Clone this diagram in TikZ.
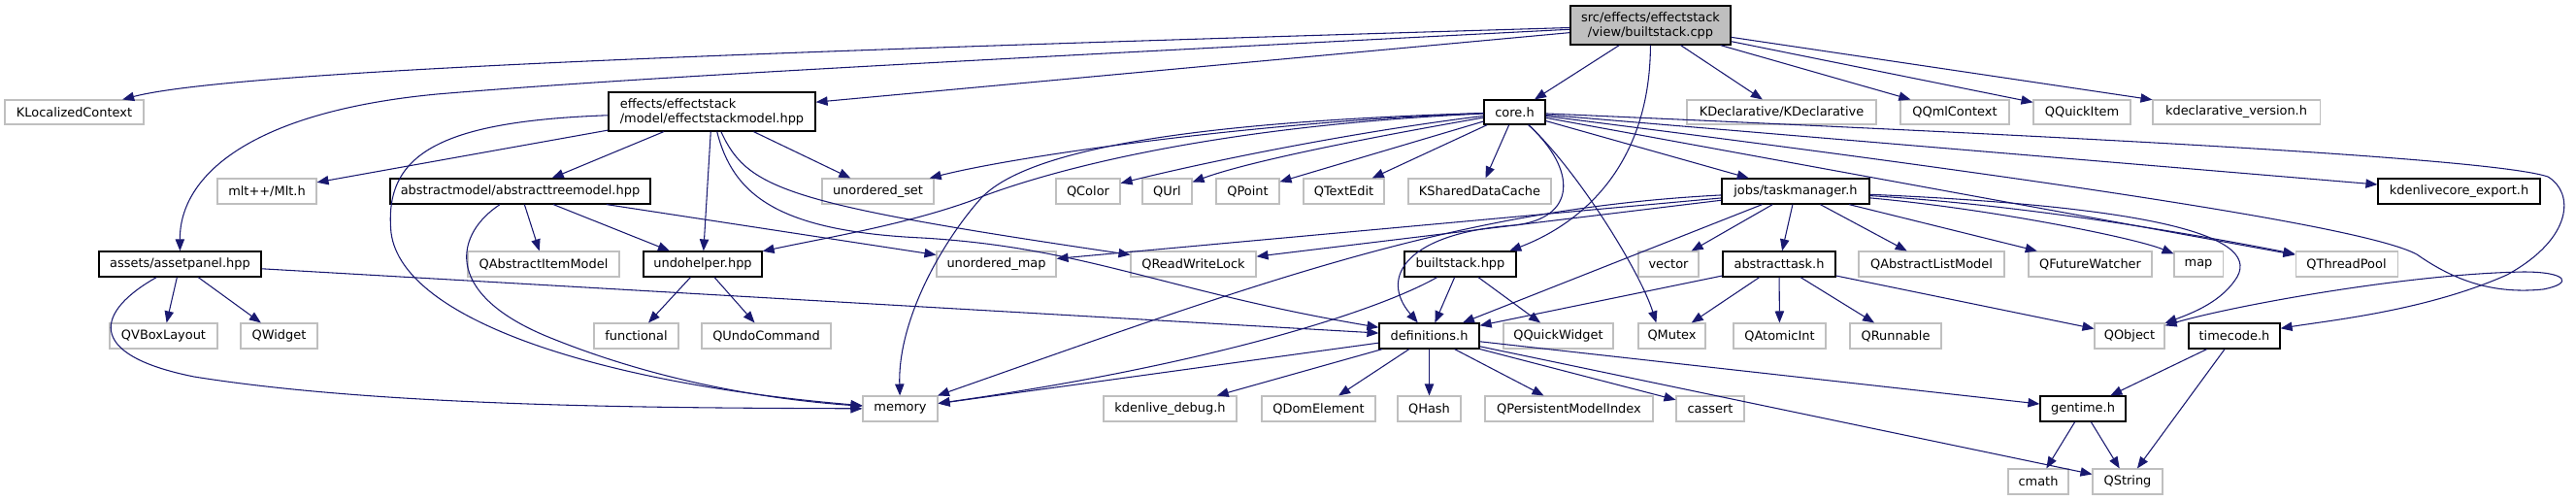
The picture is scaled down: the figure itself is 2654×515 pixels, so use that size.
\documentclass[tikz,border=0pt]{standalone}
\usepackage{fontspec}
\setmainfont{DejaVu Sans}
\usetikzlibrary{arrows.meta}
\definecolor{edgec}{HTML}{191970}
\definecolor{greyb}{HTML}{BFBFBF}
\newcommand\mkbox[7]{\node[#6, minimum width={(#4-#2)*0.75pt}, minimum height={(#5-#3)*0.75pt}] (#1) at ({(#2+#4)/2},{(#3+#5)/2}) {#7};}
\begin{document}
\begin{tikzpicture}[x=0.75pt,y=-0.75pt,
  every node/.style={font=\fontsize{9.7}{11.3}\selectfont, inner sep=0pt, anchor=center},
  doc/.style={draw=black, line width=0.9pt, fill=white},
  ext/.style={draw=greyb, line width=0.8pt, fill=white},
  rootbox/.style={draw=black, line width=0.9pt, fill=greyb},
  edge/.style={draw=edgec, line width=0.8pt, -{Triangle[length=9pt,width=7pt]}}]
\useasboundingbox (0,0) rectangle (2654,515);
% row 0
\mkbox{root}{1618}{6}{1783}{46}{rootbox,align=center}{src/effects/effectstack\\/view/builtstack.cpp}
% row 1
\mkbox{kloc}{5}{103}{148}{128}{ext}{KLocalizedContext}
\mkbox{esm}{627}{95}{840}{135}{doc,align=left}{effects/effectstack\\/model/effectstackmodel.hpp}
\mkbox{core}{1529}{103}{1592}{128}{doc}{core.h}
\mkbox{kdecl}{1738}{103}{1933}{128}{ext}{KDeclarative/KDeclarative}
\mkbox{qqml}{1958}{103}{2070}{128}{ext}{QQmlContext}
\mkbox{qquick}{2095}{103}{2195}{128}{ext}{QQuickItem}
\mkbox{kdver}{2218}{103}{2390}{128}{ext}{kdeclarative\_version.h}
% row 2
\mkbox{mlt}{224}{184}{326}{210}{ext}{mlt++/Mlt.h}
\mkbox{atm}{402}{184}{670}{210}{doc}{abstractmodel/abstracttreemodel.hpp}
\mkbox{uset}{847}{184}{962}{210}{ext}{unordered\_set}
\mkbox{qcolor}{1088}{184}{1154}{210}{ext}{QColor}
\mkbox{qurl}{1177}{184}{1228}{210}{ext}{QUrl}
\mkbox{qpoint}{1253}{184}{1318}{210}{ext}{QPoint}
\mkbox{qtextedit}{1343}{184}{1426}{210}{ext}{QTextEdit}
\mkbox{kshared}{1451}{184}{1598}{210}{ext}{KSharedDataCache}
\mkbox{taskmgr}{1774}{184}{1926}{210}{doc}{jobs/taskmanager.h}
\mkbox{kexport}{2450}{184}{2617}{210}{doc}{kdenlivecore\_export.h}
% row 3
\mkbox{assetpanel}{102}{259}{269}{285}{doc}{assets/assetpanel.hpp}
\mkbox{qaim}{482}{259}{638}{285}{ext}{QAbstractItemModel}
\mkbox{undo}{663}{259}{785}{285}{doc}{undohelper.hpp}
\mkbox{umap}{965}{259}{1088}{285}{ext}{unordered\_map}
\mkbox{qrwl}{1165}{259}{1294}{285}{ext}{QReadWriteLock}
\mkbox{bshpp}{1447}{259}{1562}{285}{doc}{builtstack.hpp}
\mkbox{vector}{1688}{259}{1750}{285}{ext}{vector}
\mkbox{atask}{1775}{259}{1891}{285}{doc}{abstracttask.h}
\mkbox{qalm}{1915}{259}{2065}{285}{ext}{QAbstractListModel}
\mkbox{qfw}{2090}{259}{2217}{285}{ext}{QFutureWatcher}
\mkbox{map}{2240}{259}{2290}{285}{ext}{map}
\mkbox{qtp}{2365}{259}{2470}{285}{ext}{QThreadPool}
% row 4
\mkbox{qvbox}{113}{333}{224}{359}{ext}{QVBoxLayout}
\mkbox{qwidget}{248}{333}{327}{359}{ext}{QWidget}
\mkbox{functional}{612}{333}{699}{359}{ext}{functional}
\mkbox{qundo}{723}{333}{856}{359}{ext}{QUndoCommand}
\mkbox{defs}{1421}{333}{1524}{359}{doc}{definitions.h}
\mkbox{qqw}{1549}{333}{1662}{359}{ext}{QQuickWidget}
\mkbox{qmutex}{1688}{333}{1757}{359}{ext}{QMutex}
\mkbox{qatomic}{1786}{333}{1881}{359}{ext}{QAtomicInt}
\mkbox{qrun}{1906}{333}{2000}{359}{ext}{QRunnable}
\mkbox{qobject}{2158}{333}{2230}{359}{ext}{QObject}
\mkbox{timecode}{2255}{333}{2349}{359}{doc}{timecode.h}
% row 5
\mkbox{memory}{889}{408}{966}{434}{ext}{memory}
\mkbox{kdebug}{1137}{408}{1274}{434}{ext}{kdenlive\_debug.h}
\mkbox{qdom}{1300}{408}{1417}{434}{ext}{QDomElement}
\mkbox{qhash}{1440}{408}{1505}{434}{ext}{QHash}
\mkbox{qpmi}{1530}{408}{1703}{434}{ext}{QPersistentModelIndex}
\mkbox{cassert}{1727}{408}{1797}{434}{ext}{cassert}
\mkbox{gentime}{2102}{408}{2190}{434}{doc}{gentime.h}
% row 6
\mkbox{cmath}{2069}{483}{2131}{509}{ext}{cmath}
\mkbox{qstring}{2156}{483}{2228}{509}{ext}{QString}
% ---- edges: root
\draw[edge] (root) .. controls (900,50) and (250,70) .. (kloc);
\draw[edge] (root) .. controls (1000,62) and (650,80) .. (450,97) .. controls (260,115) and (185,180) .. (assetpanel);
\draw[edge] (root) -- (esm);
\draw[edge] (root) -- (core);
\draw[edge] (root) .. controls (1700,170) and (1630,230) .. (bshpp.15);
\draw[edge] (root) -- (kdecl);
\draw[edge] (root) -- (qqml);
\draw[edge] (root) -- (qquick);
\draw[edge] (root) -- (kdver);
% effectstackmodel
\draw[edge] (esm) -- (mlt);
\draw[edge] (esm) -- (atm);
\draw[edge] (esm) -- (undo);
\draw[edge] (esm) -- (uset);
\draw[edge] (esm) .. controls (450,125) and (395,160) .. (403,240) .. controls (415,330) and (620,395) .. (memory);
\draw[edge] (esm) .. controls (755,200) and (800,238) .. (950,245) .. controls (1120,255) and (1200,300) .. (defs);
\draw[edge] (esm) .. controls (770,195) and (810,210) .. (qrwl);
% abstracttreemodel
\draw[edge] (atm) -- (qaim);
\draw[edge] (atm) -- (undo);
\draw[edge] (atm) -- (umap);
\draw[edge] (atm) .. controls (470,240) and (455,300) .. (560,345) .. controls (680,395) and (800,412) .. (memory);
% undohelper
\draw[edge] (undo) -- (functional);
\draw[edge] (undo) -- (qundo);
% assetpanel
\draw[edge] (assetpanel) -- (qvbox);
\draw[edge] (assetpanel) -- (qwidget);
\draw[edge] (assetpanel) -- (defs);
\draw[edge] (assetpanel) .. controls (100,320) and (85,365) .. (200,388) .. controls (400,420) and (700,420) .. (memory);
% core.h
\draw[edge] (core) .. controls (1300,125) and (1050,160) .. (uset);
\draw[edge] (core) .. controls (1250,130) and (1080,175) .. (1000,207) .. controls (930,232) and (850,245) .. (undo);
\draw[edge] (core) .. controls (1250,125) and (1060,150) .. (1010,205) .. controls (970,250) and (925,330) .. (memory);
\draw[edge] (core) .. controls (1400,135) and (1250,165) .. (qcolor);
\draw[edge] (core) .. controls (1420,140) and (1290,165) .. (qurl);
\draw[edge] (core) -- (qpoint);
\draw[edge] (core) -- (qtextedit);
\draw[edge] (core) -- (kshared);
\draw[edge] (core) -- (taskmgr);
\draw[edge] (core) -- (kexport);
\draw[edge] (core) -- (qtp);
\draw[edge] (core) .. controls (1625,175) and (1690,280) .. (qmutex.140);
\draw[edge] (core) .. controls (1625,175) and (1625,225) .. (1560,232) .. controls (1450,240) and (1420,285) .. (defs);
\draw[edge] (core) .. controls (2000,135) and (2560,160) .. (2625,182) .. controls (2652,198) and (2652,245) .. (2583,283) .. controls (2500,320) and (2400,330) .. (timecode);
\draw[edge] (core) .. controls (2150,190) and (2440,235) .. (2490,262) .. controls (2530,290) and (2570,303) .. (2620,298) .. controls (2652,292) and (2645,280) .. (2600,280) .. controls (2480,282) and (2300,315) .. (qobject);
% taskmanager
\draw[edge] (taskmgr) -- (umap);
\draw[edge] (taskmgr) -- (qrwl);
\draw[edge] (taskmgr) .. controls (1500,215) and (1300,290) .. (memory);
\draw[edge] (taskmgr) -- (defs);
\draw[edge] (taskmgr) -- (vector);
\draw[edge] (taskmgr) -- (atask);
\draw[edge] (taskmgr) -- (qalm);
\draw[edge] (taskmgr) -- (qfw);
\draw[edge] (taskmgr) .. controls (2050,215) and (2200,245) .. (map);
\draw[edge] (taskmgr) .. controls (2100,212) and (2280,245) .. (qtp);
\draw[edge] (taskmgr) .. controls (2200,212) and (2330,240) .. (2305,285) .. controls (2290,310) and (2260,322) .. (qobject);
% abstracttask
\draw[edge] (atask) -- (defs);
\draw[edge] (atask) -- (qmutex);
\draw[edge] (atask) -- (qatomic);
\draw[edge] (atask) -- (qrun);
\draw[edge] (atask) -- (qobject);
% builtstack.hpp
\draw[edge] (bshpp) -- (defs);
\draw[edge] (bshpp) -- (qqw);
\draw[edge] (bshpp) .. controls (1420,320) and (1250,375) .. (memory);
% definitions.h
\draw[edge] (defs) -- (memory);
\draw[edge] (defs) -- (kdebug);
\draw[edge] (defs) -- (qdom);
\draw[edge] (defs) -- (qhash);
\draw[edge] (defs) -- (qpmi);
\draw[edge] (defs) -- (cassert);
\draw[edge] (defs) -- (gentime);
\draw[edge] (defs) -- (qstring);
% timecode / gentime
\draw[edge] (timecode) -- (gentime);
\draw[edge] (timecode) -- (qstring);
\draw[edge] (gentime) -- (cmath);
\draw[edge] (gentime) -- (qstring);
\end{tikzpicture}
\end{document}
